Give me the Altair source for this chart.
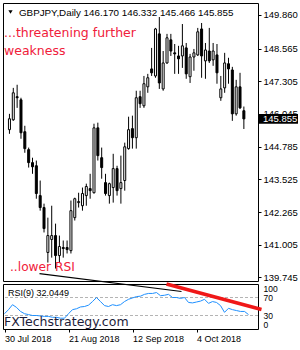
import altair as alt
import pandas as pd

# ---- data (GBPJPY daily, 30 Jul 2018 .. 23 Oct 2018) ----
opens = [145.44, 145.82, 146.71, 146.59, 145.36, 144.67, 144.17, 144.05, 142.90, 142.44,
         140.71, 141.21, 141.36, 140.59, 140.90, 140.90, 140.78, 142.05, 142.63, 142.51,
         142.90, 143.17, 143.01, 145.51, 144.36, 143.40, 142.90, 143.21, 143.94, 143.17,
         143.48, 144.71, 145.48, 145.13, 146.71, 146.36, 147.09, 147.78, 147.51, 149.13,
         147.01, 148.01, 148.90, 148.40, 148.28, 148.28, 148.59, 147.48, 148.24, 148.32,
         149.32, 148.09, 148.47, 148.13, 148.32, 146.67, 147.05, 147.98, 147.74, 146.05,
         147.09, 146.170]
highs = [146.05, 147.05, 147.17, 146.67, 145.59, 144.75, 144.36, 144.25, 143.48, 142.59,
         142.05, 142.51, 141.82, 141.36, 141.17, 141.17, 142.71, 142.82, 143.01, 143.21,
         143.36, 143.74, 145.67, 145.71, 144.75, 143.74, 143.40, 144.51, 144.05, 144.44,
         144.94, 145.94, 145.98, 146.94, 146.94, 147.51, 147.59, 148.59, 149.36, 149.78,
         148.47, 149.13, 149.13, 148.74, 148.67, 149.51, 148.78, 148.36, 148.55, 149.36,
         149.55, 148.78, 149.36, 148.78, 148.74, 147.51, 148.40, 148.21, 147.86, 147.36,
         147.63, 146.332]
lows = [145.28, 145.78, 146.28, 145.09, 144.55, 143.98, 143.74, 142.78, 142.32, 141.48,
        140.32, 140.51, 140.09, 140.32, 140.51, 140.67, 140.67, 141.94, 142.44, 142.32,
        142.51, 142.78, 142.98, 144.25, 143.55, 142.90, 142.59, 142.63, 142.90, 142.59,
        143.09, 144.67, 144.71, 144.71, 146.28, 146.28, 146.86, 147.51, 147.44, 147.01,
        146.94, 147.98, 148.28, 147.59, 147.59, 147.82, 147.40, 147.24, 147.71, 148.28,
        147.44, 147.40, 148.01, 147.90, 147.21, 146.55, 146.86, 147.21, 145.78, 145.98,
        146.24, 145.466]
closes = [145.86, 146.86, 146.67, 145.32, 144.71, 144.17, 144.01, 142.98, 142.44, 141.63,
          141.36, 141.36, 140.59, 140.94, 140.86, 140.82, 142.32, 142.78, 142.67, 142.98,
          143.25, 143.09, 145.51, 144.44, 143.98, 142.98, 143.36, 143.94, 143.09, 143.40,
          144.78, 145.44, 145.13, 146.67, 146.44, 147.21, 147.44, 147.63, 149.32, 147.24,
          148.01, 148.98, 148.47, 148.36, 148.17, 148.67, 147.59, 148.24, 148.40, 149.21,
          148.28, 148.51, 148.09, 148.47, 147.63, 147.01, 148.01, 147.78, 146.05, 147.09,
          146.28, 145.855]
rsi = [34, 43, 54, 48, 39, 34, 32, 30, 30, 29,
       28, 28, 26, 26, 24, 24, 34, 43, 45, 49,
       50, 53, 61, 70, 61, 52, 50, 54, 52, 54,
       61, 66, 69, 72, 73, 77, 79, 79, 81, 74,
       75, 77, 70, 70, 68, 70, 59, 58, 60, 62,
       66, 57, 61, 59, 52, 37, 46, 43, 41, 39,
       39, 32.04]

date_ticks = [0, 16, 32, 48]
date_labels = ["30 Jul 2018", "21 Aug 2018", "12 Sep 2018", "4 Oct 2018"]
price_ticks = [139.745, 141.005, 142.265, 143.525, 144.785, 146.045, 147.305, 148.565, 149.860]
rsi_ticks = [0, 30, 70, 100]
rsi_levels = [30, 70]
last_close = 145.855
title_text = "GBPJPY,Daily 146.170 146.332 145.466 145.855"
rsi_text = "RSI(9) 32.0449"
red_lines = ["...threatening further", "weakness"]
red_note = "..lower RSI"
site_text = "FXTechstrategy.com"

# trend lines (index, RSI units)
red_trend_x = [40.5, 64.25]
red_trend_y = [100, 43.3]
black_trend_x = [8.75, 44.25]
black_trend_y = [123, 83.3]

# ---- tables ----
df = pd.DataFrame({"i": list(range(len(opens))), "o": opens, "h": highs,
                   "l": lows, "c": closes, "r": rsi})

W = 255
H_MAIN = 278
H_RSI = 45
SMALL_FONT = "Liberation Sans"
BIG_FONT = "DejaVu Sans"

xs = alt.Scale(domain=[-0.375, 63.375], nice=False, zero=False)
ys = alt.Scale(domain=[139.61, 150.32], nice=False, zero=False)
rs = alt.Scale(domain=[0, 100], nice=False, zero=False)

price_axis = alt.Axis(orient="right", values=price_ticks, format=".3f", tickSize=3,
                      labelPadding=2, domain=False, grid=False, title=None,
                      labelFont=SMALL_FONT, labelFontSize=9.5, labelColor="black",
                      tickColor="black", labelFlush=False, labelOverlap=False,
                      labelBaseline="middle")

label_expr = " : ".join(
    [f"datum.value == {v} ? '{t}'" for v, t in zip(date_ticks, date_labels)]) + " : ''"
date_axis = alt.Axis(values=date_ticks, labelExpr=label_expr, tickSize=3,
                     labelAlign="left", labelPadding=2, domain=False, grid=False,
                     title=None, labelFont=SMALL_FONT, labelFontSize=9,
                     labelColor="black", tickColor="black", labelFlush=False,
                     labelOverlap=False)
rsi_axis = alt.Axis(orient="right", values=rsi_ticks, ticks=False, labelPadding=5,
                    domain=False, grid=False, title=None, labelFont=SMALL_FONT,
                    labelFontSize=8.5, labelColor="black", labelFlush=True,
                    labelOverlap=False)


def px(f):
    return alt.X(f, type="quantitative", scale=xs, axis=None)


def py(f):
    return alt.Y(f, type="quantitative", scale=ys, axis=price_axis)


base = alt.Chart(df)
wicks = base.mark_rule(color="black", strokeWidth=1).encode(
    x=px("i"), y=py("l"), y2="h:Q")
bodies = base.mark_bar(width=2, stroke="black", strokeWidth=1).encode(
    x=px("i"), y=py("o"), y2="c:Q",
    fill=alt.condition("datum.c >= datum.o", alt.value("white"), alt.value("black")))

tag_df = pd.DataFrame({"p": [last_close], "t": [f"{last_close:.3f}"]})
tag_rect = alt.Chart(tag_df).transform_calculate(
    lo="datum.p - 0.19", hi="datum.p + 0.19").mark_rect(color="black", clip=False).encode(
    x=alt.value(256), x2=alt.value(295), y=py("lo"), y2="hi:Q")
tag_text = alt.Chart(tag_df).mark_text(
    align="left", baseline="middle", color="white", font=SMALL_FONT, fontSize=9.5,
    clip=False).encode(x=alt.value(260), y=py("p"), text="t:N")

tri = alt.Chart(pd.DataFrame({"a": [0]})).mark_point(
    shape="triangle-down", filled=True, color="black", size=18, opacity=1).encode(
    x=alt.value(7.5), y=alt.value(9))
title = alt.Chart(pd.DataFrame({"t": [title_text]})).mark_text(
    align="left", baseline="alphabetic", font=SMALL_FONT, fontSize=9.8, color="black").encode(
    x=alt.value(16), y=alt.value(13), text="t:N")
red1 = alt.Chart(pd.DataFrame({"t": [red_lines[0]]})).mark_text(
    align="left", baseline="alphabetic", font=BIG_FONT, fontSize=12.5, color="#f0203a").encode(
    x=alt.value(1), y=alt.value(34), text="t:N")
red2 = alt.Chart(pd.DataFrame({"t": [red_lines[1]]})).mark_text(
    align="left", baseline="alphabetic", font=BIG_FONT, fontSize=12.5, color="#f0203a").encode(
    x=alt.value(1), y=alt.value(52), text="t:N")
red3 = alt.Chart(pd.DataFrame({"t": [red_note]})).mark_text(
    align="left", baseline="alphabetic", font=BIG_FONT, fontSize=12.2, color="#f0203a").encode(
    x=alt.value(7), y=alt.value(268), text="t:N")

main = alt.layer(wicks, bodies, tag_rect, tag_text, tri, title, red1, red2, red3).properties(
    width=W, height=H_MAIN)

# ---- RSI panel ----
def rx(f):
    return alt.X(f, type="quantitative", scale=xs, axis=date_axis)


def ry(f):
    return alt.Y(f, type="quantitative", scale=rs, axis=rsi_axis)


levels = alt.Chart(pd.DataFrame({"v": rsi_levels})).mark_rule(
    color="#b4b4b4", strokeDash=[3, 2], strokeWidth=1).encode(y=ry("v"))
rsi_line = base.mark_line(color="#1E90FF", strokeWidth=1).encode(x=rx("i"), y=ry("r"))
red_trend = alt.Chart(pd.DataFrame({"x": red_trend_x, "y": red_trend_y})).mark_line(
    color="#f01818", strokeWidth=3.5, clip=False).encode(x=rx("x"), y=ry("y"))
black_trend = alt.Chart(pd.DataFrame({"x": black_trend_x, "y": black_trend_y})).mark_line(
    color="black", strokeWidth=1.2, clip=False).encode(x=rx("x"), y=ry("y"))
rsi_label = alt.Chart(pd.DataFrame({"t": [rsi_text]})).mark_text(
    align="left", baseline="alphabetic", font=SMALL_FONT, fontSize=9, color="black").encode(
    x=alt.value(5), y=alt.value(12), text="t:N")
site = alt.Chart(pd.DataFrame({"t": [site_text]})).mark_text(
    align="left", baseline="alphabetic", font=BIG_FONT, fontSize=12.5, color="#1c1c3a").encode(
    x=alt.value(1), y=alt.value(42), text="t:N")

lower = alt.layer(levels, rsi_line, black_trend, red_trend, rsi_label, site).properties(
    width=W, height=H_RSI)

chart = alt.vconcat(main, lower, spacing=3, bounds="flush").properties(
    padding={"left": 2, "top": 2, "right": 0, "bottom": 0},
    background="white").configure_view(stroke="black", strokeWidth=1)

chart.save("out.html", embed_options={"renderer": "svg", "actions": False})
